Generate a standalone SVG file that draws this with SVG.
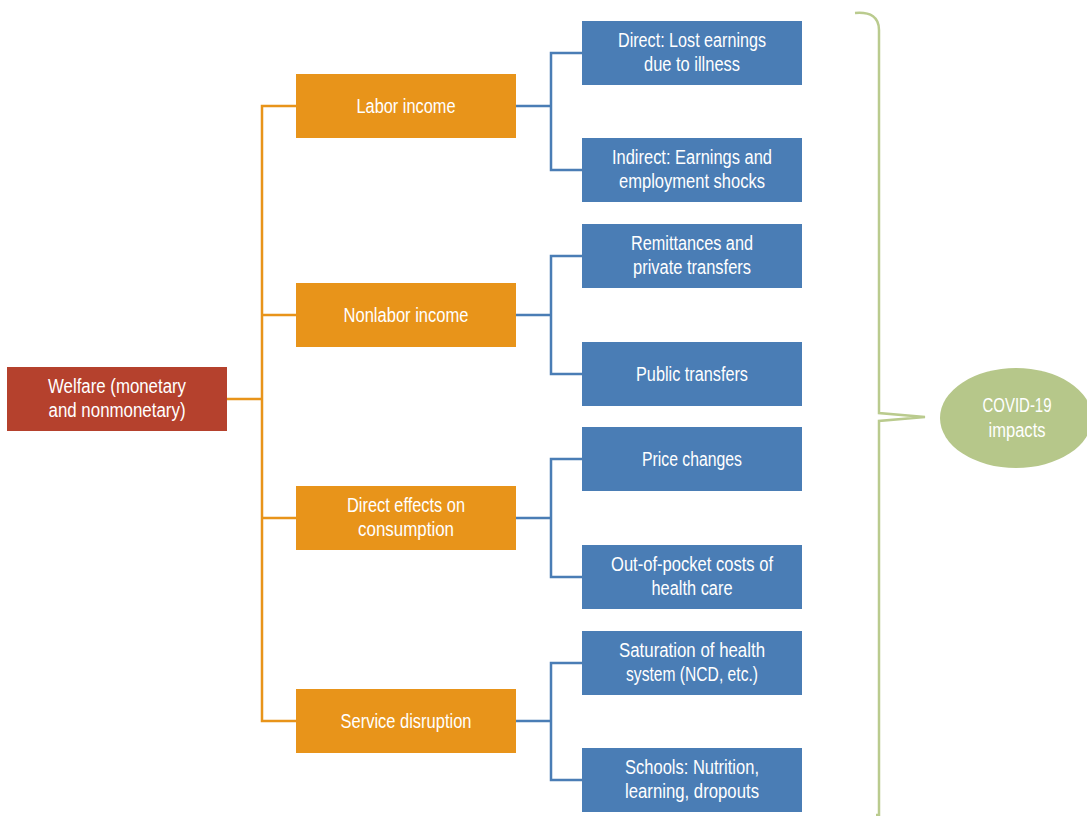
<svg xmlns="http://www.w3.org/2000/svg" width="1087" height="816" viewBox="0 0 1087 816">
<style>
.t{font-family:"Liberation Sans",Arial,sans-serif;font-size:20px;fill:#fff;text-anchor:middle}
.red{fill:#B5412D}
.or{fill:#E8941A}
.bl{fill:#4A7DB5}
.ol{stroke:#E8941A;stroke-width:2.5;fill:none}
.bll{stroke:#4A7DB5;stroke-width:2.5;fill:none}
</style>
<rect width="1087" height="816" fill="#fff"/>
<g id="connectors">
<path class="ol" d="M227 399H262M296 106H262V721H296M262 315H296M262 518H296"/>
<path class="bll" d="M516 106H551M582 53H551V170H582"/>
<path class="bll" d="M516 315H551M582 256H551V374H582"/>
<path class="bll" d="M516 518H551M582 459H551V577H582"/>
<path class="bll" d="M516 721H551M582 663H551V780H582"/>
<path d="M855 13Q879 11 879 30V413L925 417L879 421V815H876" stroke="#BACB8E" stroke-width="2.5" fill="none"/>
</g>
<g id="welfare"><rect class="red" x="7" y="367" width="220" height="64"/>
<text class="t" x="117" y="393" textLength="138" lengthAdjust="spacingAndGlyphs">Welfare (monetary</text>
<text class="t" x="117" y="417" textLength="137" lengthAdjust="spacingAndGlyphs">and nonmonetary)</text></g>
<g id="labor"><rect class="or" x="296" y="74" width="220" height="64"/>
<text class="t" x="406" y="113" textLength="99" lengthAdjust="spacingAndGlyphs">Labor income</text></g>
<g id="nonlabor"><rect class="or" x="296" y="283" width="220" height="64"/>
<text class="t" x="406" y="322" textLength="125" lengthAdjust="spacingAndGlyphs">Nonlabor income</text></g>
<g id="consumption"><rect class="or" x="296" y="486" width="220" height="64"/>
<text class="t" x="406" y="512" textLength="118" lengthAdjust="spacingAndGlyphs">Direct effects on</text>
<text class="t" x="406" y="536" textLength="96" lengthAdjust="spacingAndGlyphs">consumption</text></g>
<g id="service"><rect class="or" x="296" y="689" width="220" height="64"/>
<text class="t" x="406" y="728" textLength="131" lengthAdjust="spacingAndGlyphs">Service disruption</text></g>
<g id="direct"><rect class="bl" x="582" y="21" width="220" height="64"/>
<text class="t" x="692" y="47" textLength="148" lengthAdjust="spacingAndGlyphs">Direct: Lost earnings</text>
<text class="t" x="692" y="71" textLength="96" lengthAdjust="spacingAndGlyphs">due to illness</text></g>
<g id="indirect"><rect class="bl" x="582" y="138" width="220" height="64"/>
<text class="t" x="692" y="164" textLength="160" lengthAdjust="spacingAndGlyphs">Indirect: Earnings and</text>
<text class="t" x="692" y="188" textLength="146" lengthAdjust="spacingAndGlyphs">employment shocks</text></g>
<g id="remit"><rect class="bl" x="582" y="224" width="220" height="64"/>
<text class="t" x="692" y="250" textLength="122" lengthAdjust="spacingAndGlyphs">Remittances and</text>
<text class="t" x="692" y="274" textLength="118" lengthAdjust="spacingAndGlyphs">private transfers</text></g>
<g id="public"><rect class="bl" x="582" y="342" width="220" height="64"/>
<text class="t" x="692" y="381" textLength="112" lengthAdjust="spacingAndGlyphs">Public transfers</text></g>
<g id="price"><rect class="bl" x="582" y="427" width="220" height="64"/>
<text class="t" x="692" y="466" textLength="100" lengthAdjust="spacingAndGlyphs">Price changes</text></g>
<g id="oop"><rect class="bl" x="582" y="545" width="220" height="64"/>
<text class="t" x="692" y="571" textLength="162" lengthAdjust="spacingAndGlyphs">Out-of-pocket costs of</text>
<text class="t" x="692" y="595" textLength="81" lengthAdjust="spacingAndGlyphs">health care</text></g>
<g id="saturation"><rect class="bl" x="582" y="631" width="220" height="64"/>
<text class="t" x="692" y="657" textLength="146" lengthAdjust="spacingAndGlyphs">Saturation of health</text>
<text class="t" x="692" y="681" textLength="132" lengthAdjust="spacingAndGlyphs">system (NCD, etc.)</text></g>
<g id="schools"><rect class="bl" x="582" y="748" width="220" height="64"/>
<text class="t" x="692" y="774" textLength="134" lengthAdjust="spacingAndGlyphs">Schools: Nutrition,</text>
<text class="t" x="692" y="798" textLength="134" lengthAdjust="spacingAndGlyphs">learning, dropouts</text></g>
<g id="covid"><ellipse cx="1016" cy="418" rx="76" ry="50" fill="#B6C78A"/>
<text class="t" x="1017" y="412" textLength="69" lengthAdjust="spacingAndGlyphs">COVID-19</text>
<text class="t" x="1017" y="437" textLength="57" lengthAdjust="spacingAndGlyphs">impacts</text></g>
</svg>
